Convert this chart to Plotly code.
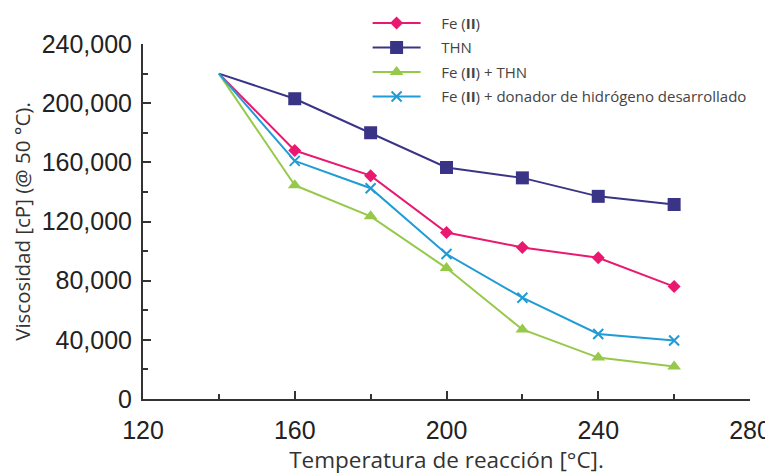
import plotly.graph_objects as go

start_temp = 140
start_visc = 220000
temps = [160, 180, 200, 220, 240, 260]
fe_ii = [168000, 151000, 112500, 102500, 95500, 76000]
thn = [203000, 180000, 156500, 149500, 137000, 131500]
fe_thn = [144500, 123500, 88500, 47000, 28000, 22000]
fe_donor = [161000, 142500, 98000, 68500, 44000, 39500]

pad = "\u00a0\u00a0\u00a0\u00a0"
series = [
    ("Fe (<b>II</b>)", fe_ii, "#e8196f", "diamond", 10, None),
    ("THN", thn, "#3a3487", "square", 13, None),
    ("Fe (<b>II</b>) + THN", fe_thn, "#96c94a", "triangle-up", 12, None),
    ("Fe (<b>II</b>) + donador de hidrógeno desarrollado", fe_donor, "#1f9cd6", "x-thin", 10, 2),
]

fig = go.Figure()
for i, (name, vals, color, sym, size, lw) in enumerate(series):
    grp = f"g{i}"
    fig.add_trace(go.Scatter(
        x=[start_temp, temps[0]], y=[start_visc, vals[0]], mode="lines",
        line=dict(color=color, width=2), showlegend=False, legendgroup=grp,
        hoverinfo="skip"))
    marker = dict(symbol=sym, size=size, color=color)
    if lw:
        marker["line"] = dict(color=color, width=lw)
    fig.add_trace(go.Scatter(
        x=temps, y=vals, mode="lines+markers", name=pad + name, legendgroup=grp,
        line=dict(color=color, width=2), marker=marker))

axis_font = dict(family="Liberation Sans, Arial, sans-serif", size=25, color="#222")

fig.update_layout(
    width=773, height=474,
    margin=dict(l=135, r=31, t=36, b=83, autoexpand=False),
    paper_bgcolor="white", plot_bgcolor="white",
    legend=dict(x=0.37, y=1.105, xanchor="left", yanchor="top",
                font=dict(family="Open Sans, sans-serif", size=15, color="#444"),
                bgcolor="rgba(255,255,255,0)", tracegroupgap=2,
                traceorder="grouped", itemwidth=48),
    xaxis=dict(range=[120, 280], tickvals=[120, 160, 200, 240, 280],
               showgrid=False, zeroline=False, showline=True,
               linecolor="#333", linewidth=2, ticks="inside", ticklen=8,
               tickwidth=1.5, tickcolor="#333", ticklabelstandoff=8,
               minor=dict(dtick=20, ticks="inside", ticklen=5, tickcolor="#333", showgrid=False),
               tickfont=axis_font, automargin=False,
               title=dict(text="Temperatura de reacción [°C].",
                          font=dict(family="Open Sans, sans-serif", size=22.5, color="#333"),
                          standoff=1)),
    yaxis=dict(range=[0, 240000], tickvals=[0, 40000, 80000, 120000, 160000, 200000, 240000],
               tickformat=",", showgrid=False, zeroline=False, showline=True,
               linecolor="#333", linewidth=2, ticks="inside", ticklen=8,
               tickwidth=1.5, tickcolor="#333", ticklabelstandoff=4,
               minor=dict(dtick=20000, ticks="inside", ticklen=5, tickcolor="#333", showgrid=False),
               tickfont=axis_font, automargin=False,
               title=dict(text="Viscosidad [cP] (@ 50 °C).",
                          font=dict(family="Open Sans, sans-serif", size=20.5, color="#333"),
                          standoff=6)),
)

fig.write_html("out.html")
